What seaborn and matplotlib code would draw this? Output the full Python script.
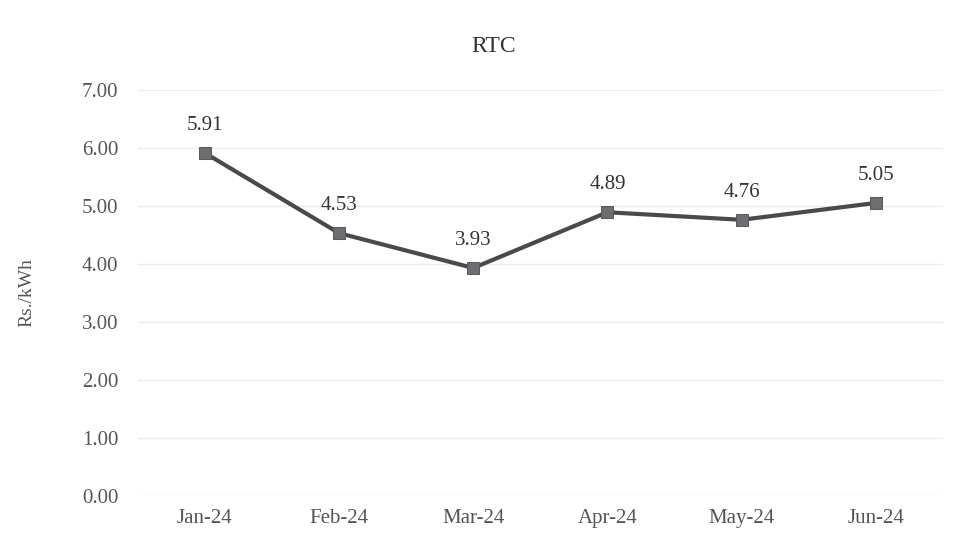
import numpy as np
import pandas as pd
import matplotlib.pyplot as plt
import seaborn as sns

months = ['Jan-24', 'Feb-24', 'Mar-24', 'Apr-24', 'May-24', 'Jun-24']
rtc = [5.91, 4.53, 3.93, 4.89, 4.76, 5.05]
y_ticks = [0, 1, 2, 3, 4, 5, 6, 7]

df = pd.DataFrame({'month': months, 'rtc': rtc})

sns.set_style('white')
plt.rcParams['font.family'] = ['Liberation Serif', 'DejaVu Serif']

fig = plt.figure(figsize=(9.64, 5.44), dpi=100)
ax = fig.add_axes([0.143, 0.088, 0.835, 0.747])

sns.lineplot(data=df, x='month', y='rtc', ax=ax, color='#4a4a4a', linewidth=3,
             marker='s', markersize=9, markerfacecolor='#6e6e72',
             markeredgecolor='#5a5a5e', sort=False)

for i, v in enumerate(rtc):
    ax.annotate(f'{v:.2f}', (i, v), xytext=(0, 13), textcoords='offset points',
                ha='center', va='bottom', fontsize=15, color='#333333')

ax.set_xlim(-0.5, len(months) - 0.5)
ax.set_ylim(0, 7)
ax.set_yticks(y_ticks)
ax.set_yticklabels([f'{t:.2f}' for t in y_ticks])
ax.tick_params(axis='both', length=0, labelsize=15, labelcolor='#555555')
ax.tick_params(axis='y', pad=14)
ax.tick_params(axis='x', pad=9)
ax.grid(axis='y', color='#ececec', linewidth=1)
for s in ax.spines.values():
    s.set_visible(False)

ax.set_xlabel('')
ax.set_ylabel('Rs./kWh', fontsize=14, color='#555555')
ax.yaxis.set_label_coords(-0.127, 0.5)
fig.text(0.512, 0.915, 'RTC', ha='center', va='center', fontsize=17, color='#333333')

fig.savefig('out.png', dpi=100, facecolor='white')
